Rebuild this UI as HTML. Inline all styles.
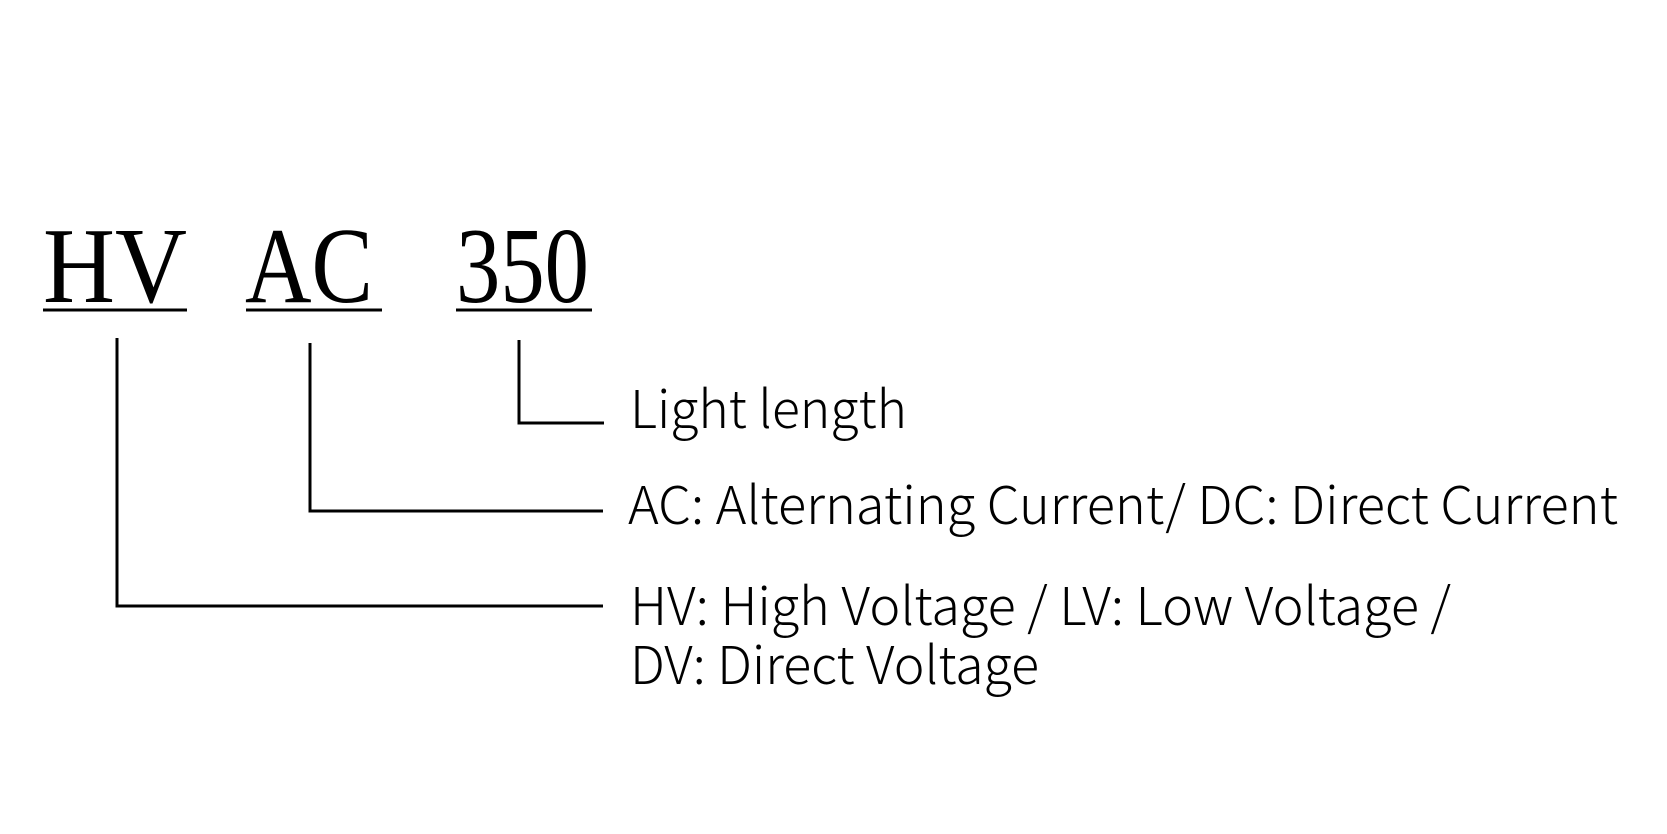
<!DOCTYPE html>
<html><head><meta charset="utf-8"><style>
html,body{margin:0;padding:0;background:#fff;}
svg{display:block;}
.t{font-family:"Liberation Serif",serif;font-size:108px;fill:#000;}
.l{font-family:"Noto Sans CJK SC","Liberation Sans",sans-serif;font-weight:300;font-size:52px;fill:#000;}
</style></head><body>
<svg width="1667" height="834" viewBox="0 0 1667 834" xmlns="http://www.w3.org/2000/svg">
<text class="t" x="43" y="302" textLength="144" lengthAdjust="spacingAndGlyphs">HV</text>
<text class="t" x="245" y="302" textLength="128" lengthAdjust="spacingAndGlyphs">AC</text>
<text class="t" x="456" y="302" textLength="133" lengthAdjust="spacingAndGlyphs">350</text>
<g stroke="#000" stroke-width="3" fill="none">
<line x1="43" y1="310" x2="187" y2="310"/>
<line x1="246" y1="310" x2="382" y2="310"/>
<line x1="456" y1="310" x2="592" y2="310"/>
<polyline points="117,338 117,606 603,606"/>
<polyline points="310,343 310,511 603,511"/>
<polyline points="519,340 519,423 604,423"/>
</g>
<text class="l" x="630" y="428" textLength="277" lengthAdjust="spacingAndGlyphs">Light length</text>
<text class="l" x="628" y="524" textLength="990" lengthAdjust="spacingAndGlyphs">AC: Alternating Current/ DC: Direct Current</text>
<text class="l" x="630" y="625" textLength="821" lengthAdjust="spacingAndGlyphs">HV: High Voltage / LV: Low Voltage /</text>
<text class="l" x="630" y="684" textLength="409" lengthAdjust="spacingAndGlyphs">DV: Direct Voltage</text>
</svg>
</body></html>
